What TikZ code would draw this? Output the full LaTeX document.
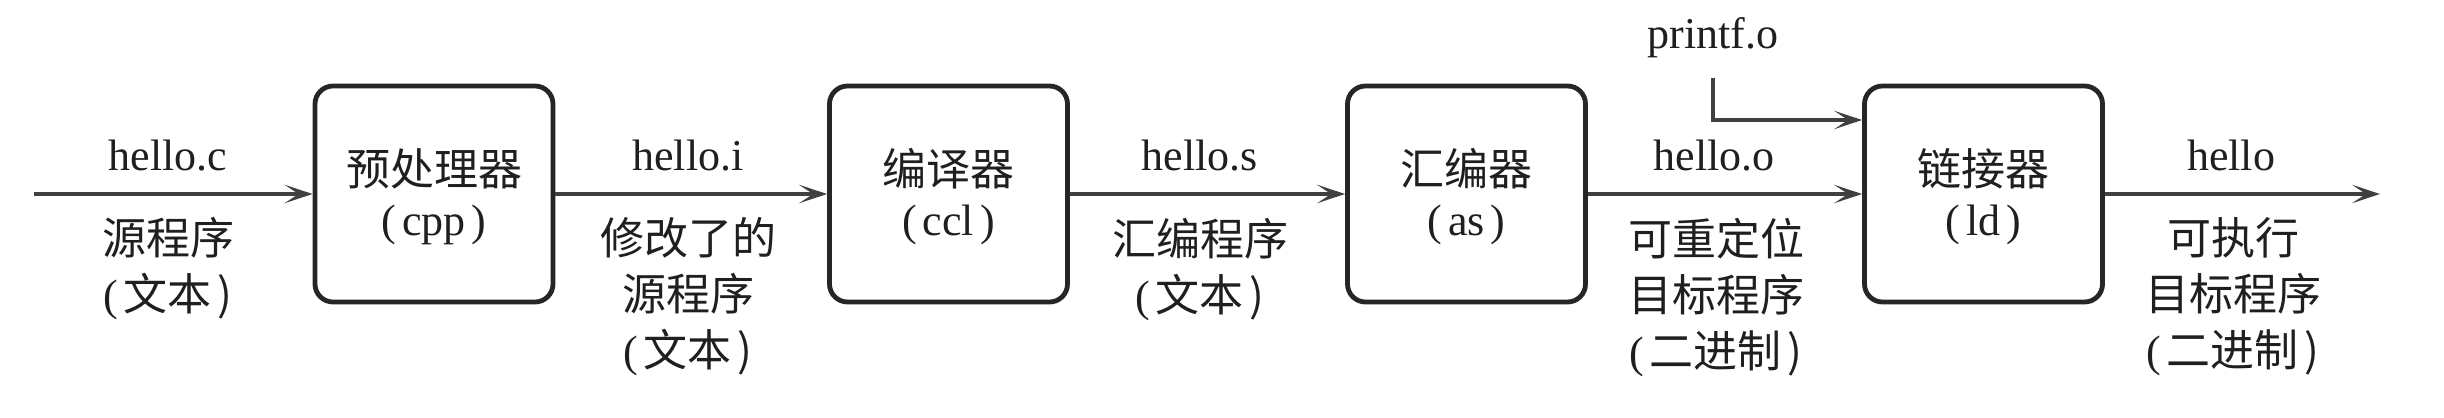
\documentclass[tikz,border=0pt]{standalone}
\usepackage{fontspec}
\setmainfont{Liberation Serif}
\newfontfamily\cjk{Noto Sans CJK SC}
\usetikzlibrary{arrows.meta}
\newcommand{\wrapp}[1]{(\kern1.5pt#1\kern1.5pt)}
\newcommand{\boxhead}[1]{\raisebox{0pt}[\dimexpr\height+1.5pt\relax]{\cjk #1}}
\begin{document}
\begin{tikzpicture}[x=0.25pt,y=-0.25pt,
  every node/.style={font=\fontsize{11}{14}\selectfont, text=black!88},
  stage/.style={draw=black!85, line width=1.2pt, rounded corners=4.5pt,
    minimum width=59.5pt, minimum height=54pt, align=center, inner sep=0pt},
  flow/.style={draw=black!75, line width=0.8pt,
    -{Stealth[length=7pt,width=4.6pt,inset=3.5pt]}},
  abovelbl/.style={anchor=base, inner sep=0pt},
  belowlbl/.style={anchor=north, align=center, inner sep=0pt}
]
\useasboundingbox (0,0) rectangle (2444,418);

% stages
\node[stage] (cpp) at (434,194)    {\boxhead{预处理器}\\[-1.5pt]\wrapp{cpp}};
\node[stage] (ccl) at (948.5,194)  {\boxhead{编译器}\\[-1.5pt]\wrapp{ccl}};
\node[stage] (as)  at (1466.5,194) {\boxhead{汇编器}\\[-1.5pt]\wrapp{as}};
\node[stage] (ld)  at (1983.5,194) {\boxhead{链接器}\\[-1.5pt]\wrapp{ld}};

% free ends
\coordinate (src) at (34,194);
\coordinate (exe) at (2380,194);
\coordinate (pfstart) at (1713,78);
\coordinate (pfturn) at (1713,120);

% connectors
\draw[flow] (src) -- (cpp.west);
\draw[flow] (cpp.east) -- (ccl.west);
\draw[flow] (ccl.east) -- (as.west);
\draw[flow] (as.east) -- (ld.west);
\draw[flow] (ld.east) -- (exe);
\draw[flow] (pfstart) -- (pfturn) -- (pfturn -| ld.west);

% file names
\node[abovelbl] (pf) at (1713,49)  {printf.o};
\node[abovelbl] (fc) at (168,170)  {hello.c};
\node[abovelbl] (fi) at (688,170)  {hello.i};
\node[abovelbl] (fs) at (1200,170) {hello.s};
\node[abovelbl] (fo) at (1714,170) {hello.o};
\node[abovelbl] (fe) at (2231,170) {hello};

% descriptions
\node[belowlbl] (dc) at (168,217)  {{\cjk 源程序}\\\wrapp{\cjk 文本}};
\node[belowlbl] (di) at (688,217)  {{\cjk 修改了的}\\{\cjk 源程序}\\\wrapp{\cjk 文本}};
\node[belowlbl] (ds) at (1200,217) {{\cjk 汇编程序}\\\wrapp{\cjk 文本}};
\node[belowlbl] (do) at (1716,217) {{\cjk 可重定位}\\{\cjk 目标程序}\\\wrapp{\cjk 二进制}};
\node[belowlbl] (de) at (2233,217) {{\cjk 可执行}\\{\cjk 目标程序}\\\wrapp{\cjk 二进制}};
\end{tikzpicture}
\end{document}
